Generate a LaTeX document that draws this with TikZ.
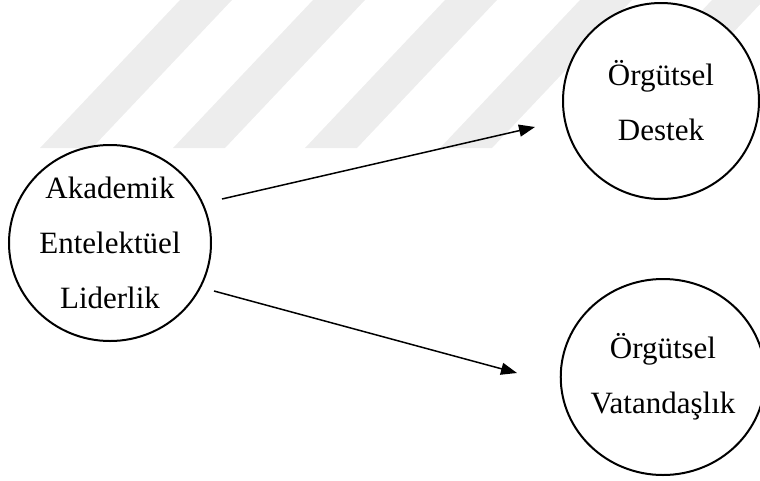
\documentclass[tikz,border=0pt]{standalone}
\usepackage{fontspec}
\setmainfont{Liberation Serif}
\usetikzlibrary{arrows.meta,shapes.geometric}
\definecolor{wm}{HTML}{EDEDED}
\tikzset{
  bubble/.style={ellipse, draw=black, line width=2pt, fill=white, align=center,
    inner sep=0pt, font={\fontsize{31}{55}\selectfont}},
  link/.style={line width=1.5pt, -{Triangle[length=16pt,width=12pt]}},
  band/.style={fill=wm, draw=none}
}
\begin{document}
\begin{tikzpicture}[x=1pt,y=-1pt]
\useasboundingbox (0,0) rectangle (760,480);
% watermark stripes
\begin{scope}
\clip (0,0) rectangle (760,148);
\foreach \t in {180,313,445,580,712}{
  \fill[band] (\t,0) -- (\t+52,0) -- (\t+52-140,148) -- (\t-140,148) -- cycle;
}
\end{scope}
\node[bubble, minimum width=202pt, minimum height=196pt] (ael) at (110,243) {Akademik\\Entelektüel\\Liderlik};
\node[bubble, minimum width=196pt, minimum height=196pt] (od) at (661,101) {Örgütsel\\Destek};
\node[bubble, minimum width=196pt, minimum height=196pt] (ov) at (663,377) {Örgütsel\\Vatandaşlık};
\coordinate (s1) at (222,199);
\coordinate (e1) at (535,127);
\coordinate (s2) at (214,291);
\coordinate (e2) at (517,373);
\draw[link] (s1) -- (e1);
\draw[link] (s2) -- (e2);
\end{tikzpicture}
\end{document}
